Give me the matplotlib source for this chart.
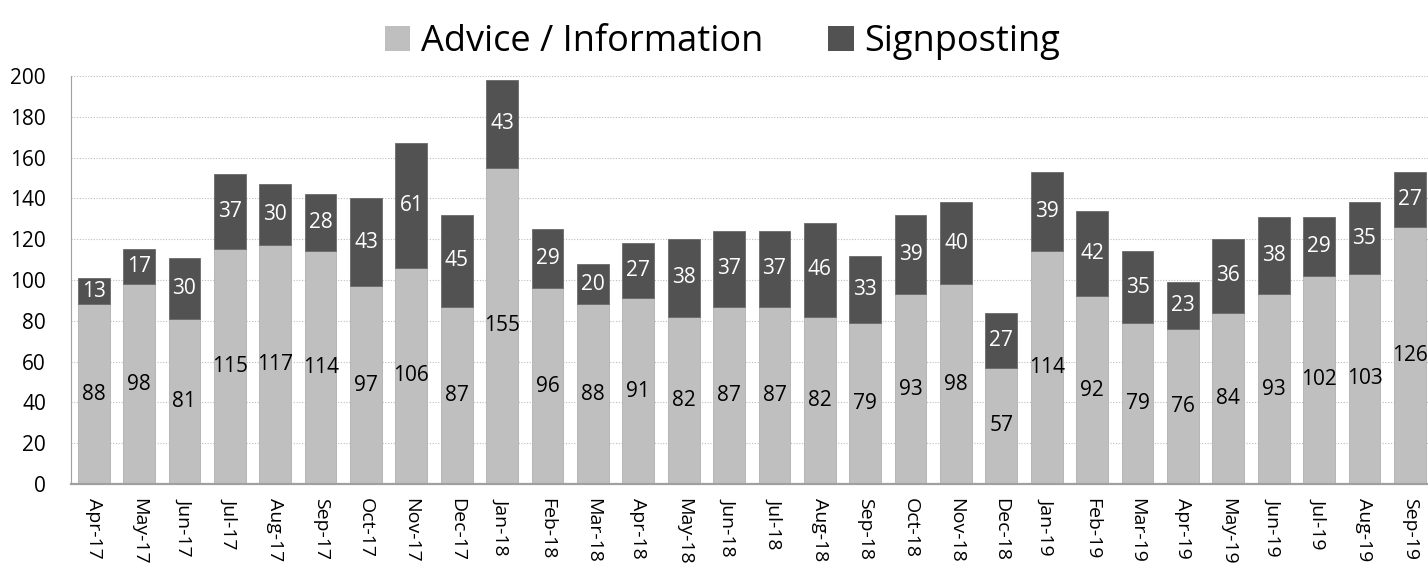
import numpy as np
import matplotlib.pyplot as plt
from matplotlib.patches import Patch

months = ["Apr-17", "May-17", "Jun-17", "Jul-17", "Aug-17", "Sep-17", "Oct-17", "Nov-17",
          "Dec-17", "Jan-18", "Feb-18", "Mar-18", "Apr-18", "May-18", "Jun-18", "Jul-18",
          "Aug-18", "Sep-18", "Oct-18", "Nov-18", "Dec-18", "Jan-19", "Feb-19", "Mar-19",
          "Apr-19", "May-19", "Jun-19", "Jul-19", "Aug-19", "Sep-19"]
advice = [88, 98, 81, 115, 117, 114, 97, 106, 87, 155, 96, 88, 91, 82, 87, 87,
          82, 79, 93, 98, 57, 114, 92, 79, 76, 84, 93, 102, 103, 126]
signposting = [13, 17, 30, 37, 30, 28, 43, 61, 45, 43, 29, 20, 27, 38, 37, 37,
               46, 33, 39, 40, 27, 39, 42, 35, 23, 36, 38, 29, 35, 27]

plt.rcParams['font.family'] = ['Open Sans', 'DejaVu Sans']

light = '#BFBFBF'
dark = '#525252'

fig = plt.figure(figsize=(14.28, 5.67), dpi=100)
ax = fig.add_axes([0.0497, 0.1464, 0.9503, 0.7196])

x = np.arange(len(months))
ax.bar(x, advice, width=0.7, color=light, edgecolor='#B0B0B0', linewidth=0.6, zorder=2)
ax.bar(x, signposting, width=0.7, bottom=advice, color=dark, edgecolor='#6A6A6A',
       linewidth=0.6, zorder=2)

for xi, a, s in zip(x, advice, signposting):
    ax.text(xi, a / 2, str(a), ha='center', va='center', fontsize=15, color='black', zorder=3)
    ax.text(xi, a + s / 2, str(s), ha='center', va='center', fontsize=15, color='white', zorder=3)

ax.set_xlim(-0.5, len(months) - 0.6)
ax.set_ylim(0, 200)
ax.set_yticks(np.arange(0, 201, 20))
ax.set_xticks(x)
ax.set_xticklabels(months, rotation=-90, va='top', ha='center')
ax.tick_params(axis='x', length=0, pad=10, labelsize=14)
ax.tick_params(axis='y', length=0, pad=18, labelsize=15)

ax.yaxis.grid(True, linestyle=(0, (1, 1.5)), color='#BDBDBD', linewidth=0.8, zorder=0)
ax.set_axisbelow(True)
for side in ['top', 'right']:
    ax.spines[side].set_visible(False)
ax.spines['left'].set_color('#A0A0A0')
ax.spines['bottom'].set_color('#A0A0A0')
ax.spines['bottom'].set_linewidth(1.6)

handles = [Patch(facecolor=light, label='Advice / Information'),
           Patch(facecolor=dark, label='Signposting')]
fig.legend(handles=handles, loc='upper center', bbox_to_anchor=(0.506, 1.015), ncol=2,
           frameon=False, fontsize=26, handlelength=0.7, handleheight=0.7,
           handletextpad=0.3, columnspacing=1.8)

fig.savefig('out.png', dpi=100)
